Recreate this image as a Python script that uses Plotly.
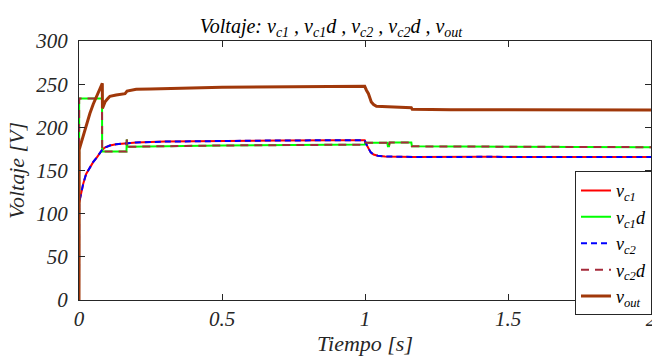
import plotly.graph_objects as go

# ---- data ----
t_c = [0, 0.0005, 0.004, 0.015, 0.025, 0.038, 0.05, 0.062, 0.072, 0.08, 0.09, 0.108, 0.13, 0.16,
       0.2, 0.3, 0.5, 0.7, 0.9, 0.999, 1.005, 1.012, 1.02, 1.03, 1.045, 1.07, 1.1, 1.17, 1.43, 1.7, 2.0]
v_c1 = [0, 112, 118, 135, 146, 154, 160, 165, 169.5, 173.5, 176.5, 179, 180.5, 181.5,
        182.5, 183.5, 184.5, 184.8, 185, 185, 180, 175.5, 171, 168.5, 167, 166.3, 166, 165.7, 165.8, 165.6, 165.5]
v_c2 = [0, 112, 118, 135, 146, 154, 160, 165, 169.5, 173.5, 176.5, 179, 180.5, 181.5,
        182.5, 183.5, 184.5, 184.8, 185, 185, 180, 175.5, 171, 168.5, 167, 166.3, 166, 165.7, 165.8, 165.6, 165.5]

t_d = [0, 0.0005, 0.0805, 0.081, 0.166, 0.167, 0.169, 0.172, 0.25, 0.5, 0.75, 0.999, 1.001, 1.078,
       1.08, 1.084, 1.086, 1.162, 1.164, 1.5, 2.0]
v_c1d = [0, 233.5, 233.5, 172, 172, 186, 178, 177.5, 178, 179, 179.5, 180, 182, 182,
         178, 178, 182.5, 182.5, 178, 177.5, 177]
v_c2d = [0, 233.5, 233.5, 172, 172, 186, 178, 177.5, 178, 179, 179.5, 180, 182, 182,
         178, 178, 182.5, 182.5, 178, 177.5, 177]

t_o = [0, 0.0005, 0.004, 0.015, 0.027, 0.038, 0.05, 0.062, 0.072, 0.0815, 0.082, 0.086, 0.091, 0.1,
       0.108, 0.13, 0.161, 0.168, 0.2, 0.25, 0.39, 0.5, 0.75, 0.999, 1.005, 1.012, 1.022, 1.03, 1.04,
       1.06, 1.08, 1.162, 1.165, 1.3, 1.5, 2.0]
v_out = [0, 174, 178, 191, 204, 216, 227, 237, 244.5, 251, 222, 226, 229.5, 233,
         236, 237.5, 239, 242, 244, 244.5, 246, 246.5, 247, 247.5, 243, 239, 229.5, 226.5, 224.5,
         224, 223.7, 222.6, 221, 220.5, 220.2, 220]

x_ticks = [0, 0.5, 1, 1.5, 2]
x_ticktext = ["<i>0</i>", "<i>0.5</i>", "<i>1</i>", "<i>1.5</i>", "<i>2</i>"]
y_ticks = [0, 50, 100, 150, 200, 250, 300]
y_ticktext = ["<i>0</i>", "<i>50</i>", "<i>100</i>", "<i>150</i>", "<i>200</i>", "<i>250</i>", "<i>300</i>"]

FONT = "Liberation Serif"
AX = "#262626"

fig = go.Figure()
fig.add_trace(go.Scatter(x=t_c, y=v_c1, mode="lines", name="<i>v<sub>c1</sub></i>",
                         line=dict(color="#FF0000", width=2)))
fig.add_trace(go.Scatter(x=t_d, y=v_c1d, mode="lines", name="<i>v<sub>c1</sub>d</i>",
                         line=dict(color="#00FF00", width=2)))
fig.add_trace(go.Scatter(x=t_c, y=v_c2, mode="lines", name="<i>v<sub>c2</sub></i>",
                         line=dict(color="#0000FF", width=2, dash="6px,4px")))
fig.add_trace(go.Scatter(x=t_d, y=v_c2d, mode="lines", name="<i>v<sub>c2</sub>d</i>",
                         line=dict(color="#A52A3A", width=2, dash="8px,6px")))
fig.add_trace(go.Scatter(x=t_o, y=v_out, mode="lines", name="<i>v<sub>out</sub></i>",
                         line=dict(color="#A0380A", width=3)))

fig.update_layout(
    width=652, height=363,
    margin=dict(l=79, r=1, t=41, b=63, autoexpand=False),
    paper_bgcolor="white", plot_bgcolor="white",
    font=dict(family=FONT, size=20, color=AX),
    title=dict(text="<i>Voltaje: v<sub>c1</sub> , v<sub>c1</sub>d , v<sub>c2</sub> , v<sub>c2</sub>d , v<sub>out</sub></i>",
               x=331 / 652, xanchor="center", y=1 - 26 / 363, yanchor="middle",
               font=dict(family=FONT, size=20, color="#000000")),
    showlegend=True,
    legend=dict(x=(575 - 79) / 572, y=(299.5 - 171) / 258.5, xanchor="left", yanchor="top",
                bgcolor="white", bordercolor=AX, borderwidth=1,
                font=dict(family=FONT, size=18, color="#000000"),
                itemwidth=30, tracegroupgap=0),
)
fig.update_xaxes(range=[0, 2], tickvals=x_ticks, ticktext=x_ticktext, ticklabeloverflow="allow",
                 automargin=False,
                 showgrid=False, zeroline=False, showline=True, linecolor=AX, linewidth=1,
                 mirror="ticks", ticks="inside", ticklen=6, tickcolor=AX,
                 tickfont=dict(family=FONT, size=21, color=AX),
                 title=dict(text="<i>Tiempo [s]</i>", standoff=4,
                            font=dict(family=FONT, size=22, color=AX)))
fig.update_yaxes(range=[0, 300], tickvals=y_ticks, ticktext=y_ticktext, automargin=False,
                 showgrid=False, zeroline=False, showline=True, linecolor=AX, linewidth=1,
                 mirror="ticks", ticks="inside", ticklen=6, tickcolor=AX, ticklabelstandoff=6,
                 tickfont=dict(family=FONT, size=21, color=AX),
                 title=dict(text="<i>Voltaje [V]</i>", standoff=4,
                            font=dict(family=FONT, size=22, color=AX)))

fig.write_html("out.html")
